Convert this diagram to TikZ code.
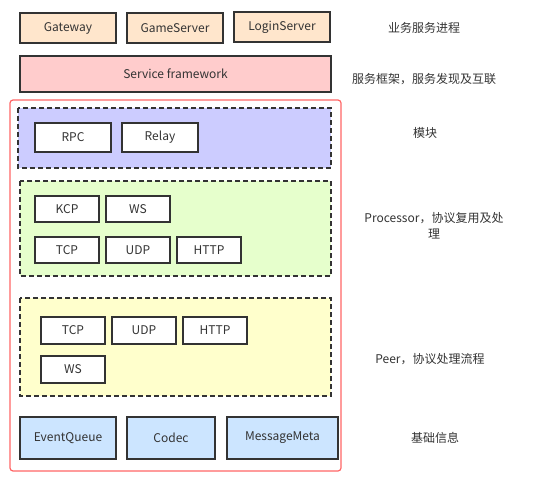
\documentclass[tikz,border=0pt]{standalone}
\usepackage{fontspec}
\setmainfont{Noto Sans CJK SC}
\definecolor{lineGray}{RGB}{51, 51, 51}
\definecolor{textGray}{RGB}{51, 51, 51}
\definecolor{procOrange}{RGB}{255, 230, 204}
\definecolor{frameRed}{RGB}{255, 204, 204}
\definecolor{outerRed}{RGB}{255, 102, 102}
\definecolor{moduleBlue}{RGB}{204, 204, 255}
\definecolor{processorGreen}{RGB}{230, 255, 204}
\definecolor{peerYellow}{RGB}{255, 255, 204}
\definecolor{baseBlue}{RGB}{204, 229, 255}
\usepackage{tikz}
\usetikzlibrary{positioning,calc}

\tikzset{
    box/.style={draw=lineGray,line width=1.5pt,fill=white,text=textGray,
        font=\fontsize{12}{14}\selectfont,inner sep=0pt},
    layer/.style={draw=lineGray,line width=1.2pt,dashed,dash pattern=on 5pt off 3pt},
    note/.style={text=textGray,font=\fontsize{12}{16}\selectfont,align=center}
}

\begin{document}
\begin{tikzpicture}[x=1pt,y=-1pt]
    \useasboundingbox (0,0) rectangle (544,484);

    % business processes
    \node[box,fill=procOrange,minimum width=96pt,minimum height=30pt] (gateway) at (68,28) {Gateway};
    \node[box,fill=procOrange,minimum width=96pt,minimum height=30pt] (gameserver) at (175,28) {GameServer};
    \node[box,fill=procOrange,minimum width=96pt,minimum height=30pt] (loginserver) at (282,27) {LoginServer};
    \node[note] (lblbiz) at (424,28) {业务服务进程};

    % service framework
    \node[box,fill=frameRed,minimum width=311pt,minimum height=36pt] (framework) at (175.5,74) {Service framework};
    \node[note] (lblframe) at (424,79) {服务框架，服务发现及互联};

    % outer red container
    \draw[outerRed,line width=1.2pt,rounded corners=3pt] (10,100) rectangle (341,471);

    % modules
    \draw[layer,fill=moduleBlue] (18,108) rectangle (331,168);
    \node[box,minimum width=76pt,minimum height=29pt] (rpc) at (73,137.5) {RPC};
    \node[box,minimum width=76pt,minimum height=29pt] (relay) at (160,137.5) {Relay};
    \node[note] (lblmodule) at (425,133) {模块};

    % processor
    \draw[layer,fill=processorGreen] (20,181) rectangle (331,276);
    \node[box,minimum width=64pt,minimum height=26pt] (pkcp) at (67,209) {KCP};
    \node[box,minimum width=64pt,minimum height=26pt] (pws) at (138,209) {WS};
    \node[box,minimum width=64pt,minimum height=26pt] (ptcp) at (67,250) {TCP};
    \node[box,minimum width=64pt,minimum height=26pt] (pudp) at (138,250) {UDP};
    \node[box,minimum width=64pt,minimum height=26pt] (phttp) at (209,250) {HTTP};
    \node[note] (lblproc) at (434,226) {Processor，协议复用及处\\理};

    % peer
    \draw[layer,fill=peerYellow] (20,298) rectangle (331,396);
    \node[box,minimum width=64pt,minimum height=27pt] (etcp) at (73,330.5) {TCP};
    \node[box,minimum width=64pt,minimum height=27pt] (eudp) at (144,330.5) {UDP};
    \node[box,minimum width=64pt,minimum height=27pt] (ehttp) at (215,330.5) {HTTP};
    \node[box,minimum width=64pt,minimum height=27pt] (ews) at (73,369.5) {WS};
    \node[note] (lblpeer) at (430,359) {Peer，协议处理流程};

    % base info
    \node[box,fill=baseBlue,minimum width=96pt,minimum height=42pt] (eventqueue) at (68,438) {EventQueue};
    \node[box,fill=baseBlue,minimum width=88pt,minimum height=42pt] (codec) at (171,438) {Codec};
    \node[box,fill=baseBlue,minimum width=111pt,minimum height=42pt] (messagemeta) at (282.5,438) {MessageMeta};
    \node[note] (lblbase) at (435,438) {基础信息};
\end{tikzpicture}
\end{document}
